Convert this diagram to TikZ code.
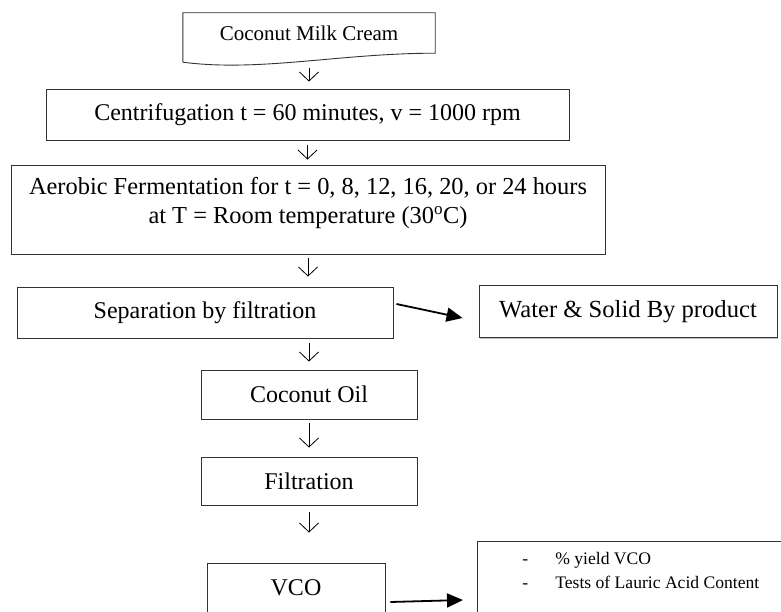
\documentclass[tikz,border=0pt]{standalone}
\usepackage{fontspec}
\setmainfont{Liberation Serif}
\usepackage{tikz}
\usetikzlibrary{shapes, arrows.meta, positioning, shadows}
\tikzstyle{block} = [draw=black!80, line width=0.9pt, fill=white, rectangle, drop shadow={shadow xshift=1.2pt, shadow yshift=-1.2pt, fill=black!50}, font=\fontsize{24}{29}\selectfont]
\tikzstyle{flow} = [line width=0.8pt, -{Straight Barb[length=9pt, width=19pt]}]
\tikzstyle{side} = [line width=1.8pt, -{Triangle[length=16pt, width=14pt]}]

\begin{document}
\begin{tikzpicture}[x=1pt, y=-1pt, auto]
  \clip (0,0) rectangle (781,612);
  \node[minimum width=252pt, minimum height=40pt, inner sep=0pt, font=\fontsize{21}{25}\selectfont] (cream) at (309,33) {Coconut Milk Cream};
  \draw[draw=black!80, line width=0.9pt] ([yshift=-9pt]cream.south west) -- (cream.north west) -- (cream.north east) -- (cream.south east)
    .. controls ([xshift=-95pt]cream.south east) and ([xshift=77pt, yshift=-19pt]cream.south west) .. ([yshift=-9pt]cream.south west);
  \node[block, minimum width=523pt, minimum height=51pt] (cent) at (307.5,114.5) {Centrifugation t = 60 minutes, v = 1000 rpm};
  \node[block, align=center, minimum width=594pt, minimum height=89pt, font=\fontsize{24.4}{29}\selectfont] (aer) at (308,209.5) {Aerobic Fermentation for t = 0, 8, 12, 16, 20, or 24 hours\\ at T = Room temperature (30\textsuperscript{o}C)\\[-11pt]\mbox{}};
  \node[block, minimum width=376pt, minimum height=51pt] (sep) at (205,312.5) {Separation by filtration};
  \node[block, minimum width=298pt, minimum height=52pt, font=\fontsize{24.6}{29}\selectfont] (water) at (628,311.5) {Water \& Solid By product};
  \node[block, minimum width=216pt, minimum height=49pt] (oil) at (309,394.5) {Coconut Oil};
  \node[block, minimum width=216pt, minimum height=48pt] (filt) at (309,481) {Filtration};
  \node[block, minimum width=178pt, minimum height=50pt] (vco) at (296,588) {VCO};
  \node[block, anchor=north west, inner xsep=45pt, inner ysep=6pt, text depth=70pt, font=\fontsize{17.6}{24}\selectfont, align=left] (res) at (477,541)
    {\begin{tabular}[t]{@{}l@{\hspace{27pt}}l@{}} - & \% yield VCO\\ - & Tests of Lauric Acid Content\end{tabular}};
  \draw[flow, shorten <=15pt, shorten >=7pt] (cream.south) -- (cream.south |- cent.north);
  \draw[flow, shorten <=5pt, shorten >=5pt] (cent.south) -- (cent.south |- aer.north);
  \draw[flow, shorten <=4pt, shorten >=10pt] (aer.south) -- (aer.south |- sep.north);
  \draw[flow, shorten <=5pt, shorten >=8pt] (oil.north |- sep.south) -- (oil.north);
  \draw[flow, shorten <=4pt, shorten >=9pt] (oil.south) -- (filt.north);
  \draw[flow, shorten <=7pt, shorten >=30pt] (filt.south) -- (filt.south |- vco.north);
  \draw[side] ([xshift=3pt, yshift=8.5pt]sep.east) -- ([xshift=-16pt, yshift=-6.5pt]water.west);
  \draw[side] ([xshift=5pt, yshift=-14pt]vco.east) -- ([xshift=-14pt, yshift=-59pt]res.north west);
\end{tikzpicture}
\end{document}
